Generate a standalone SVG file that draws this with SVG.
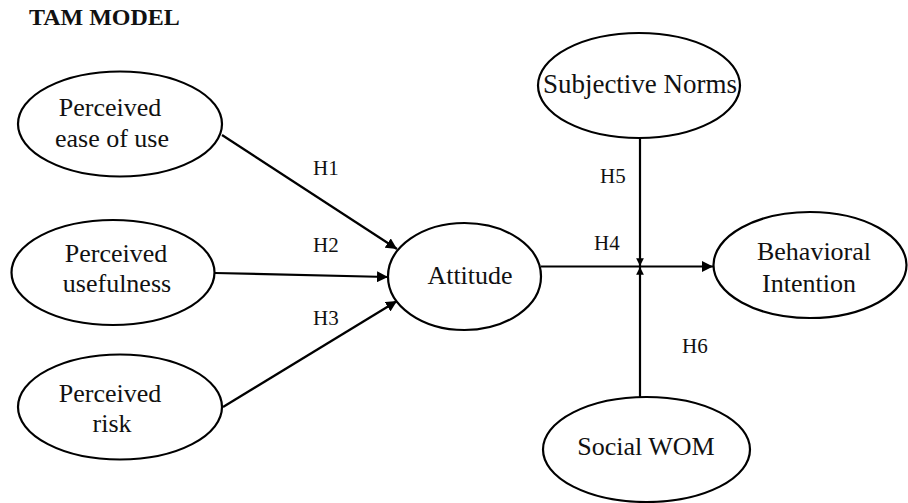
<svg xmlns="http://www.w3.org/2000/svg" width="908" height="503" viewBox="0 0 908 503">
<style>
.node ellipse{fill:#fff;stroke:#000;stroke-width:2.2}
.t{font-family:"Liberation Serif","Times New Roman",serif;font-size:26px;fill:#111;text-anchor:middle}
.lbl{font-family:"Liberation Serif","Times New Roman",serif;font-size:21px;fill:#111}
.title{font-family:"Liberation Serif","Times New Roman",serif;font-size:24px;font-weight:bold;fill:#111}
#connectors line{stroke:#000;stroke-width:2.2;fill:none}
</style>
<defs>
<marker id="arr" viewBox="0 0 10 10" refX="10" refY="5" markerWidth="5" markerHeight="5" markerUnits="strokeWidth" orient="auto">
<path d="M0,0 L10,5 L0,10 z" fill="#000"/>
</marker>
<marker id="arrs" viewBox="0 0 10 10" refX="10" refY="5" markerWidth="3.5" markerHeight="3.5" markerUnits="strokeWidth" orient="auto">
<path d="M0,0 L10,5 L0,10 z" fill="#000"/>
</marker>
</defs>
<rect width="908" height="503" fill="#fff"/>
<text class="title" x="29" y="25">TAM MODEL</text>

<g id="connectors">
<line x1="222" y1="135" x2="397" y2="249" marker-end="url(#arr)"/>
<line x1="215" y1="273" x2="388" y2="277" marker-end="url(#arr)"/>
<line x1="223" y1="407" x2="397" y2="301" marker-end="url(#arr)"/>
<line x1="541" y1="266.5" x2="713" y2="266.5" marker-end="url(#arr)"/>
<line x1="640" y1="138" x2="640" y2="266" marker-end="url(#arrs)"/>
<line x1="640" y1="397" x2="640" y2="267" marker-end="url(#arrs)"/>
<text class="lbl" x="313" y="175">H1</text>
<text class="lbl" x="313" y="252">H2</text>
<text class="lbl" x="313" y="325">H3</text>
<text class="lbl" x="594" y="250">H4</text>
<text class="lbl" x="600" y="183">H5</text>
<text class="lbl" x="682" y="353">H6</text>
</g>

<g id="peou" class="node">
<ellipse cx="120" cy="124" rx="102" ry="52.5"/>
<text class="t" x="110" y="116">Perceived</text>
<text class="t" x="112" y="147">ease of use</text>
</g>
<g id="pu" class="node">
<ellipse cx="113" cy="272.5" rx="101.5" ry="52.5"/>
<text class="t" x="116" y="262">Perceived</text>
<text class="t" x="117" y="292">usefulness</text>
</g>
<g id="pr" class="node">
<ellipse cx="120" cy="407" rx="102" ry="52.5"/>
<text class="t" x="110" y="402">Perceived</text>
<text class="t" x="112" y="432">risk</text>
</g>
<g id="attitude" class="node">
<ellipse cx="464.5" cy="276.5" rx="76.5" ry="53.5"/>
<text class="t" x="470" y="284">Attitude</text>
</g>
<g id="sn" class="node">
<ellipse cx="639" cy="85.5" rx="101" ry="52.5"/>
<text class="t" x="640" y="93" style="font-size:27px">Subjective Norms</text>
</g>
<g id="bi" class="node">
<ellipse cx="810" cy="265" rx="96.5" ry="53"/>
<text class="t" x="814" y="260">Behavioral</text>
<text class="t" x="809" y="292">Intention</text>
</g>
<g id="swom" class="node">
<ellipse cx="646.5" cy="449.5" rx="103.5" ry="52.5"/>
<text class="t" x="646" y="455">Social WOM</text>
</g>
</svg>
